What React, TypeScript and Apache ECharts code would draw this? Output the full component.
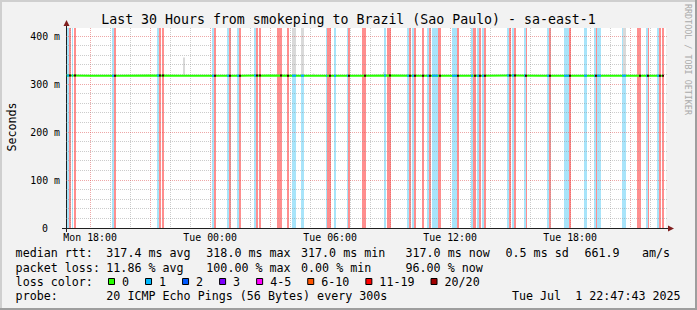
import React, { useEffect, useRef } from 'react';
import * as echarts from 'echarts';

const FONT = '"DejaVu Sans Mono", monospace';
const TITLE = 'Last 30 Hours from smokeping to Brazil (Sao Paulo) - sa-east-1';

// x: hours since Mon 00:00 ; window Mon 16:47:43 .. Tue 22:47:43
const X_START = 16.795;
const X_END = 46.795;
const Y_MAX = 416.67;

const xTickHours = [18, 24, 30, 36, 42];
const xTickLabels = ['Mon 18:00', 'Tue 00:00', 'Tue 06:00', 'Tue 12:00', 'Tue 18:00'];
const yTickValues = [0, 100, 200, 300, 400];

// median RTT (ms)
const medianRtt: [number, number][] = [
  [16.83, 317.6], [18.0, 317.4], [19.5, 317.3], [21.0, 317.5], [22.5, 317.4], [24.0, 317.3],
  [25.5, 317.4], [27.0, 317.5], [28.5, 317.4], [30.0, 317.3], [31.5, 317.4], [33.0, 317.6],
  [34.5, 317.4], [36.0, 317.3], [37.5, 317.4], [39.0, 317.5], [40.5, 317.4], [42.0, 317.3],
  [43.5, 317.4], [45.0, 317.4], [46.65, 317.0],
];

// intervals with 1 lost ping (light blue background)
const lossOneSpans: [number, number][] = [
  [16.83, 16.92], [17.08, 17.16], [19.095, 19.18], [21.345, 21.445], [24.085, 24.18], [24.845, 24.945],
  [25.345, 25.43], [26.195, 26.31], [28.08, 28.28], [28.545, 28.68], [29.795, 29.86], [30.195, 30.31],
  [30.83, 30.895], [32.695, 32.81], [33.845, 33.96], [34.095, 34.195], [34.845, 34.945], [35.08, 35.38],
  [36.08, 36.33], [37.07, 37.145], [37.33, 37.445], [37.58, 37.67], [38.83, 38.93], [39.08, 39.18],
  [39.67, 39.77], [40.845, 40.96], [41.695, 41.945], [42.71, 42.83], [43.17, 43.31], [43.36, 43.53],
  [44.595, 44.78], [45.795, 45.87], [46.33, 46.43],
];

// intervals with heavy loss (light red background)
const lossHighSpans: [number, number][] = [
  [16.92, 17.045], [17.18, 17.28], [19.18, 19.28], [21.445, 21.53], [21.58, 21.68], [24.18, 24.28],
  [24.945, 25.045], [25.43, 25.53], [26.31, 26.395], [26.445, 26.545], [27.33, 27.58], [27.83, 27.93],
  [29.86, 30.03], [30.895, 31.02], [31.58, 31.795], [32.86, 33.03], [33.96, 34.07], [34.195, 34.295],
  [34.58, 34.68], [34.945, 35.045], [35.38, 35.53], [36.33, 36.43], [37.145, 37.27], [37.445, 37.545],
  [37.68, 37.78], [38.93, 39.045], [39.18, 39.28], [39.77, 39.845], [40.96, 41.06], [41.945, 42.03],
  [43.31, 43.36], [45.33, 45.53], [45.87, 45.96], [46.43, 46.53], [46.58, 46.695],
];

// smoke (rtt spread above the median): start, end, top (ms)
const smokeSpans: [number, number, number][] = [
  [22.66, 22.76, 355], [28.08, 28.28, 420], [28.545, 28.68, 420], [29.13, 29.2, 322],
  [32.63, 32.71, 325], [44.66, 44.78, 420],
];

const lossClasses = ['0', '1', '2', '3', '4-5', '6-10', '11-19', '20/20'];
const lossClassColors = ['#26ff00', '#00b8ff', '#0059ff', '#7e00ff', '#ff00ff', '#ff5500', '#ff0000', '#a10000'];

const rttLegend = ['median rtt:', '317.4 ms avg', '318.0 ms max', '317.0 ms min', '317.0 ms now', '0.5 ms sd', '661.9', 'am/s'];
const lossLegend = ['packet loss:', '11.86 % avg', '100.00 % max', '0.00 % min', '96.00 % now'];
const probeLegend = ['probe:', '20 ICMP Echo Pings (56 Bytes) every 300s'];
const colorLegendLabel = 'loss color:';
const stampText = 'Tue Jul  1 22:47:43 2025';

// layout (pixels)
const LEG_FS = 11.68;
const CW = LEG_FS * 0.6021;
const rttLegendX = [15.6, 106.3, 206.3, 301, 405.5, 505.5, 584.5, 642];
const lossLegendX = [15.6, 106.3, 206.3, 301, 405.5];
const probeLegendX = [15.6, 106.3];
const LINE_Y = [253.4, 267.7, 282.0, 296.3];

const GRID_MINOR = 'rgba(143,143,143,0.45)';
const GRID_MAJOR = 'rgba(222,79,79,0.5)';

function medianAt(h: number): number {
  let best = medianRtt[0];
  for (const p of medianRtt) if (Math.abs(p[0] - h) < Math.abs(best[0] - h)) best = p;
  return best[1];
}

function textRuns(str: string, x0: number, y: number, font: string) {
  // split on runs of 2+ spaces, keep monospace columns
  const out: any[] = [];
  const re = /\S+(?: \S+)*/g;
  let m: RegExpExecArray | null;
  while ((m = re.exec(str))) {
    out.push({
      type: 'text', x: x0 + m.index * CW, y, silent: true,
      style: { text: m[0], font, fill: '#000', align: 'left', verticalAlign: 'middle' },
    });
  }
  return out;
}

function spanRect(color: string) {
  return (params: any, api: any) => {
    const s = api.value(0), e = api.value(1);
    const a = api.coord([s, 0]);
    const b = api.coord([e, Y_MAX]);
    const x0 = Math.round(a[0]);
    const x1 = Math.round(b[0]);
    return {
      type: 'rect',
      shape: { x: x0, y: b[1], width: Math.max(1, x1 - x0), height: a[1] - b[1] },
      style: { fill: color },
      silent: true,
    };
  };
}

export default function App() {
  const ref = useRef<HTMLDivElement>(null);

  useEffect(() => {
    if (!ref.current) return;
    const chart = echarts.init(ref.current, undefined, { renderer: 'svg' });
    const legFont = `${LEG_FS}px ${FONT}`;

    const graphics: any[] = [];
    // frame
    graphics.push({ type: 'rect', shape: { x: 0, y: 0, width: 697, height: 2 }, style: { fill: '#cfcfcf' }, silent: true });
    graphics.push({ type: 'rect', shape: { x: 0, y: 0, width: 2, height: 310 }, style: { fill: '#cfcfcf' }, silent: true });
    graphics.push({ type: 'rect', shape: { x: 695, y: 0, width: 2, height: 310 }, style: { fill: '#9e9e9e' }, silent: true });
    graphics.push({ type: 'rect', shape: { x: 0, y: 308, width: 697, height: 2 }, style: { fill: '#9e9e9e' }, silent: true });
    // title
    graphics.push({ type: 'text', x: 348.5, y: 19, silent: true,
      style: { text: TITLE, font: `13.25px ${FONT}`, fill: '#000', align: 'center', verticalAlign: 'middle' } });
    // vertical label
    graphics.push({ type: 'text', x: 12, y: 127, rotation: Math.PI / 2, silent: true,
      style: { text: 'Seconds', font: legFont, fill: '#000', align: 'center', verticalAlign: 'middle' } });
    // watermark
    graphics.push({ type: 'text', x: 688, y: 59.5, rotation: -Math.PI / 2, silent: true,
      style: { text: 'RRDTOOL / TOBI OETIKER', font: `8.4px ${FONT}`, fill: '#aaaaaa', align: 'center', verticalAlign: 'middle' } });
    // axes
    graphics.push({ type: 'line', shape: { x1: 62, y1: 228.5, x2: 669, y2: 228.5 }, style: { stroke: '#1f1f1f', lineWidth: 1 }, silent: true });
    graphics.push({ type: 'line', shape: { x1: 66.5, y1: 232, x2: 66.5, y2: 26 }, style: { stroke: '#1f1f1f', lineWidth: 1 }, silent: true });
    graphics.push({ type: 'polygon', shape: { points: [[668, 225.5], [674, 228.5], [668, 231.5]] }, style: { fill: '#801f1f' }, silent: true });
    graphics.push({ type: 'polygon', shape: { points: [[63.5, 26], [66.5, 20], [69.5, 26]] }, style: { fill: '#801f1f' }, silent: true });

    // legend lines
    rttLegend.forEach((t, i) => graphics.push(...textRuns(t, rttLegendX[i], LINE_Y[0], legFont)));
    lossLegend.forEach((t, i) => graphics.push(...textRuns(t, lossLegendX[i], LINE_Y[1], legFont)));
    graphics.push(...textRuns(colorLegendLabel, 15.6, LINE_Y[2], legFont));
    let bx = 108;
    lossClasses.forEach((label, i) => {
      graphics.push({ type: 'rect', shape: { x: bx + 0.5, y: 278.5, width: 6, height: 6 },
        style: { fill: lossClassColors[i], stroke: '#000', lineWidth: 1 }, silent: true });
      graphics.push(...textRuns(label, bx + 14, LINE_Y[2], legFont));
      bx += 30 + label.length * CW;
    });
    probeLegend.forEach((t, i) => graphics.push(...textRuns(t, probeLegendX[i], LINE_Y[3], legFont)));
    graphics.push(...textRuns(stampText, 680.7 - stampText.length * CW, LINE_Y[3], legFont));

    const vGrid: number[][] = [];
    for (let h = Math.ceil(X_START); h <= Math.floor(X_END); h++) vGrid.push([h, 0]);
    const hGrid: number[][] = [];
    for (let v = 20; v < Y_MAX; v += 20) hGrid.push([X_START, v]);

    const option: any = {
      animation: false,
      backgroundColor: '#f2f2f2',
      grid: { left: 66, top: 28, width: 600, height: 200, show: true, backgroundColor: '#ffffff', borderWidth: 0 },
      xAxis: {
        type: 'value', min: X_START, max: X_END,
        axisLine: { show: false }, axisTick: { show: false }, splitLine: { show: false },
        axisLabel: {
          customValues: xTickHours,
          formatter: (v: number) => {
            const i = xTickHours.findIndex((h) => Math.abs(h - v) < 1e-6);
            return i >= 0 ? xTickLabels[i] : '';
          },
          fontFamily: FONT, fontSize: 9.9, color: '#000', margin: 9.8, verticalAlign: 'middle',
        },
      },
      yAxis: {
        type: 'value', min: 0, max: Y_MAX,
        axisLine: { show: false }, axisTick: { show: false }, splitLine: { show: false },
        axisLabel: {
          customValues: yTickValues,
          formatter: (v: number) => (v === 0 ? '{z|0}' : `${v} m`),
          fontFamily: FONT, fontSize: 9.9, color: '#000', margin: 6,
          rich: { z: { fontFamily: FONT, fontSize: 9.9, color: '#000', padding: [0, 12, 0, 0] } },
        },
      },
      series: [
        { type: 'custom', name: 'loss 1', z: 1, data: lossOneSpans, renderItem: spanRect('#a8e4fa') },
        { type: 'custom', name: 'loss high', z: 1, data: lossHighSpans, renderItem: spanRect('#ff8e8e') },
        {
          type: 'custom', name: 'smoke', z: 2, data: smokeSpans,
          renderItem: (params: any, api: any) => {
            const s = api.value(0), e = api.value(1), top = Math.min(api.value(2), Y_MAX);
            const a = api.coord([s, medianAt(s) + 2]);
            const b = api.coord([e, top]);
            const x0 = Math.round(a[0]), x1 = Math.round(b[0]);
            return { type: 'rect', shape: { x: x0, y: b[1], width: Math.max(1, x1 - x0), height: a[1] - b[1] },
              style: { fill: '#d9d9d9' }, silent: true };
          },
        },
        {
          type: 'custom', name: 'vgrid', z: 3, data: vGrid,
          renderItem: (params: any, api: any) => {
            const h = api.value(0);
            const p = api.coord([h, 0]);
            const t = api.coord([h, Y_MAX]);
            const x = Math.floor(p[0]) + 0.5;
            const major = Math.round(h) % 3 === 0;
            return { type: 'line', shape: { x1: x, y1: t[1], x2: x, y2: p[1] },
              style: { stroke: major ? GRID_MAJOR : GRID_MINOR, lineWidth: 1, lineDash: [1, 1] }, silent: true };
          },
        },
        {
          type: 'custom', name: 'hgrid', z: 3, data: hGrid,
          renderItem: (params: any, api: any) => {
            const v = api.value(1);
            const p = api.coord([X_START, v]);
            const q = api.coord([X_END, v]);
            const y = Math.floor(p[1]) + 0.5;
            const major = Math.round(v) % 100 === 0;
            return { type: 'line', shape: { x1: p[0], y1: y, x2: q[0] + 2, y2: y },
              style: { stroke: major ? GRID_MAJOR : GRID_MINOR, lineWidth: 1, lineDash: [1, 1] }, silent: true };
          },
        },
        {
          type: 'line', name: 'median rtt', z: 4, data: medianRtt, showSymbol: false, symbol: 'none',
          lineStyle: { color: '#26ff00', width: 2 }, silent: true,
        },
        {
          type: 'custom', name: 'median loss 1', z: 5, data: lossOneSpans,
          renderItem: (params: any, api: any) => {
            const s = api.value(0), e = api.value(1);
            const m = medianAt((s + e) / 2);
            const a = api.coord([s, m]);
            const b = api.coord([e, m]);
            return { type: 'line', shape: { x1: Math.round(a[0]), y1: a[1], x2: Math.round(b[0]), y2: b[1] },
              style: { stroke: '#00a8ff', lineWidth: 2 }, silent: true };
          },
        },
        {
          type: 'custom', name: 'median loss high', z: 5, data: lossHighSpans,
          renderItem: (params: any, api: any) => {
            const e = api.value(1);
            const m = medianAt(e);
            const a = api.coord([e, m]);
            return { type: 'rect', shape: { x: Math.round(a[0]) - 2, y: a[1] - 1, width: 2, height: 2 },
              style: { fill: '#400000' }, silent: true };
          },
        },
      ],
      graphic: graphics,
    };

    chart.setOption(option);
    return () => chart.dispose();
  }, []);

  return (
    <div
      ref={ref}
      style={{ position: 'fixed', left: 0, top: 0, width: 697, height: 310 }}
    />
  );
}
